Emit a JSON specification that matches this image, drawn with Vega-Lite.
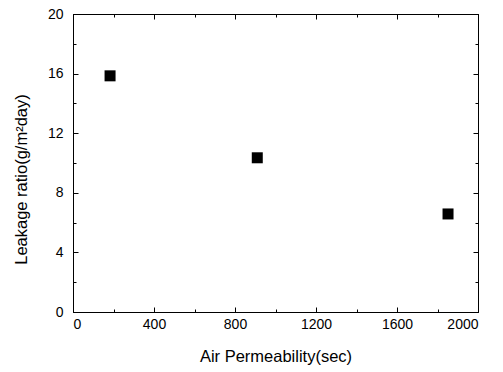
{
  "$schema": "https://vega.github.io/schema/vega-lite/v6.json",
  "width": 405,
  "height": 298,
  "autosize": "none",
  "padding": {"left": 73, "top": 14, "right": 25, "bottom": 60},
  "background": "white",
  "config": {
    "view": {"stroke": "black", "strokeWidth": 1},
    "axis": {
      "grid": false,
      "domainColor": "black",
      "tickColor": "black",
      "labelColor": "black",
      "titleColor": "black",
      "labelFont": "Liberation Sans",
      "titleFont": "Liberation Sans",
      "labelFontSize": 14,
      "titleFontSize": 16.5,
      "titleFontWeight": "normal",
      "ticks": true
    }
  },
  "data": {
    "values": [
      {"perm": 183, "leak": 15.85},
      {"perm": 910, "leak": 10.35},
      {"perm": 1852, "leak": 6.58}
    ]
  },
  "layer": [
    {
      "mark": {"type": "square", "size": 121, "color": "black", "opacity": 1, "filled": true},
      "encoding": {
        "x": {
          "field": "perm", "type": "quantitative",
          "scale": {"domain": [0, 2000], "nice": false},
          "axis": {
            "orient": "bottom",
            "values": [0, 200, 400, 600, 800, 1000, 1200, 1400, 1600, 1800, 2000],
            "labelExpr": "datum.value % 400 === 0 ? datum.value : ''",
            "tickSize": {"expr": "datum.value % 400 === 0 ? -5 : -3"},
            "labelPadding": 10,
            "title": "Air Permeability(sec)",
            "titlePadding": 17
          }
        },
        "y": {
          "field": "leak", "type": "quantitative",
          "scale": {"domain": [0, 20], "nice": false},
          "axis": {
            "orient": "left",
            "values": [0, 2, 4, 6, 8, 10, 12, 14, 16, 18, 20],
            "labelExpr": "datum.value % 4 === 0 ? datum.value : ''",
            "tickSize": {"expr": "datum.value % 4 === 0 ? -5 : -3"},
            "labelPadding": 15,
            "title": "Leakage ratio(g/m²day)",
            "titlePadding": 18,
            "titleY": 165
          }
        }
      }
    },
    {
      "mark": {"type": "square", "opacity": 0},
      "encoding": {
        "x": {
          "field": "perm", "type": "quantitative",
          "axis": {
            "orient": "top",
            "values": [0, 200, 400, 600, 800, 1000, 1200, 1400, 1600, 1800, 2000],
            "tickSize": {"expr": "datum.value % 400 === 0 ? -5 : -3"},
            "labels": false, "title": null
          }
        },
        "y": {
          "field": "leak", "type": "quantitative",
          "axis": {
            "orient": "right",
            "values": [0, 2, 4, 6, 8, 10, 12, 14, 16, 18, 20],
            "tickSize": {"expr": "datum.value % 4 === 0 ? -5 : -3"},
            "labels": false, "title": null
          }
        }
      }
    }
  ]
}
